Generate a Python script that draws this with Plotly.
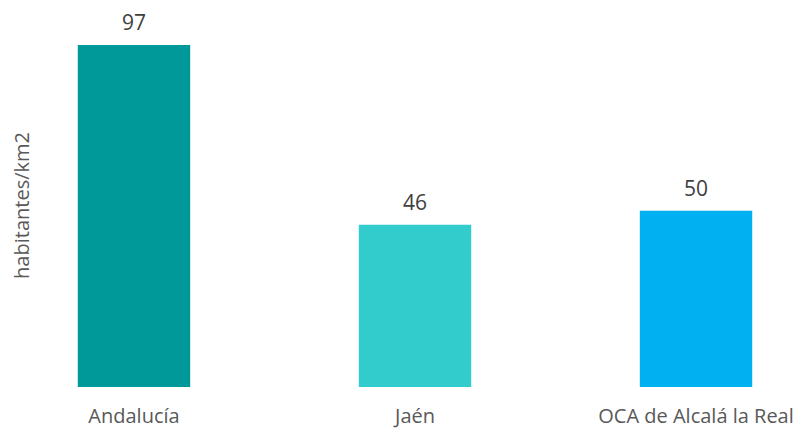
import plotly.graph_objects as go

categories = ["Andalucía", "Jaén", "OCA de Alcalá la Real"]
values = [97, 46, 50]
colors = ["#009999", "#33CCCC", "#00B0F0"]
y_title = "habitantes/km2"

fig = go.Figure()
fig.add_trace(go.Bar(
    x=categories, y=values, marker=dict(color=colors, line=dict(width=0)),
    width=0.4, hoverinfo="skip",
))
for c, v in zip(categories, values):
    fig.add_annotation(x=c, y=v, text=str(v), showarrow=False, yanchor="bottom",
                       yshift=7, font=dict(size=21, color="#404040"))

fig.add_annotation(xref="paper", yref="paper", x=-0.0237, y=0.483, text=y_title,
                   showarrow=False, textangle=-90, xanchor="center", yanchor="middle",
                   font=dict(size=20, color="#595959"))

fig.update_layout(
    width=796, height=421,
    margin=dict(l=32, r=4, t=2, b=42, autoexpand=False),
    paper_bgcolor="white", plot_bgcolor="white",
    font=dict(family="Open Sans, sans-serif", color="#595959", size=20),
    showlegend=False,
    xaxis=dict(range=[-0.3345, 2.37], showgrid=False, zeroline=False, showline=False,
               automargin=False,
               ticks="", ticklabelstandoff=15, tickfont=dict(size=20, color="#595959")),
    yaxis=dict(range=[0, 106.9], showgrid=False, zeroline=False, showline=False,
               automargin=False, showticklabels=False, ticks=""),
)
fig.write_html("out.html")
